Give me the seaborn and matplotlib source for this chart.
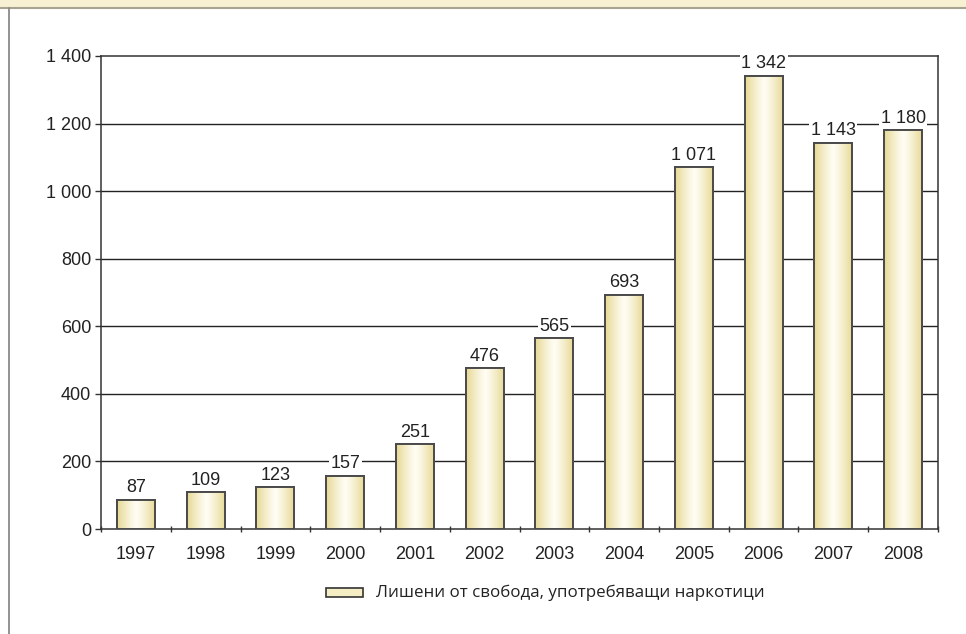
import numpy as np
import pandas as pd
import matplotlib
matplotlib.use("Agg")
import matplotlib.pyplot as plt
import seaborn as sns
from matplotlib.patches import Rectangle
from matplotlib.lines import Line2D

years = ["1997", "1998", "1999", "2000", "2001", "2002",
         "2003", "2004", "2005", "2006", "2007", "2008"]
prisoners = [87, 109, 123, 157, 251, 476, 565, 693, 1071, 1342, 1143, 1180]
series_name = "Лишени от свобода, употребяващи наркотици"
y_ticks = [0, 200, 400, 600, 800, 1000, 1200, 1400]

df = pd.DataFrame({"year": years, "value": prisoners})

sns.set_style("white")
plt.rcParams['font.family'] = ['Liberation Sans', 'DejaVu Sans']

def fmt(v):
    return f"{v:,}".replace(",", " ")

fig = plt.figure(figsize=(9.66, 6.34), dpi=100)
ax = fig.add_axes([0.1046, 0.1656, 0.8664, 0.7461])

sns.barplot(data=df, x="year", y="value", ax=ax, width=0.545,
            color="#f3ebc0", edgecolor="#4a4a4a", linewidth=1.4,
            zorder=3)

# horizontal gradient fill on each bar
grad = np.linspace(-1, 1, 256)
grad = np.abs(grad) ** 1.2
cmap = matplotlib.colors.LinearSegmentedColormap.from_list(
    "barfill", ["#fffdf4", "#e6d892"])
for bar in ax.patches:
    x0, y0 = bar.get_x(), bar.get_y()
    w, h = bar.get_width(), bar.get_height()
    im = ax.imshow(grad[np.newaxis, :], cmap=cmap, aspect="auto",
                   extent=[x0, x0 + w, y0, y0 + h], zorder=3.5,
                   vmin=0, vmax=1)
    im.set_clip_path(bar)
    ax.add_patch(Rectangle((x0, y0), w, h, fill=False,
                           edgecolor="#4a4a4a", linewidth=1.4, zorder=4))

ax.set_xlim(-0.5, len(years) - 0.5)
ax.set_ylim(0, 1400)
ax.set_yticks(y_ticks)
ax.set_yticklabels([fmt(v) for v in y_ticks], fontsize=13, color="#222222")
ax.tick_params(axis="y", length=4, width=1, color="#333333", direction="out", left=True, pad=3)
ax.set_xticks(range(len(years)))
ax.set_xticklabels(years, fontsize=13, color="#222222")
ax.tick_params(axis="x", length=0, pad=12)
ax.set_xticks(np.arange(-0.5, len(years)), minor=True)
ax.tick_params(axis="x", which="minor", length=5, width=1, color="#333333",
               direction="inout", bottom=True)
ax.set_xlabel("")
ax.set_ylabel("")

for yv in y_ticks[1:-1]:
    ax.axhline(yv, color="#222222", linewidth=1.0, zorder=1)

for s in ["left", "right", "top", "bottom"]:
    ax.spines[s].set_visible(True)
    ax.spines[s].set_color("#333333")
    ax.spines[s].set_linewidth(1.1)

for i, v in enumerate(prisoners):
    ax.annotate(fmt(v), (i, v), xytext=(0, 2.5), textcoords="offset points",
                ha="center", va="bottom", fontsize=13, color="#222222",
                bbox=dict(boxstyle="square,pad=0.08", fc="white", ec="none"),
                zorder=5)

# legend
lx, ly = 0.3375, 0.0655
fig.add_artist(Rectangle((lx, ly - 0.0075), 0.038, 0.015,
                         transform=fig.transFigure, facecolor="#f5eec4",
                         edgecolor="#333333", linewidth=1.2))
fig.text(lx + 0.052, ly, series_name, fontsize=12.2,
         family=["Open Sans", "DejaVu Sans"], color="#222222", va="center")

# page decorations: top band and left rule
fig.add_artist(Rectangle((0, 1 - 8 / 634), 1, 8 / 634,
                         transform=fig.transFigure, facecolor="#f8f0d2",
                         edgecolor="none"))
fig.add_artist(Line2D([0, 1], [1 - 8 / 634, 1 - 8 / 634],
                      transform=fig.transFigure, color="#a8a290", linewidth=1.5))
fig.add_artist(Line2D([9 / 966, 9 / 966], [0, 1 - 8 / 634],
                      transform=fig.transFigure, color="#8a8a8a", linewidth=1.3))

fig.savefig("out.png", dpi=100)
